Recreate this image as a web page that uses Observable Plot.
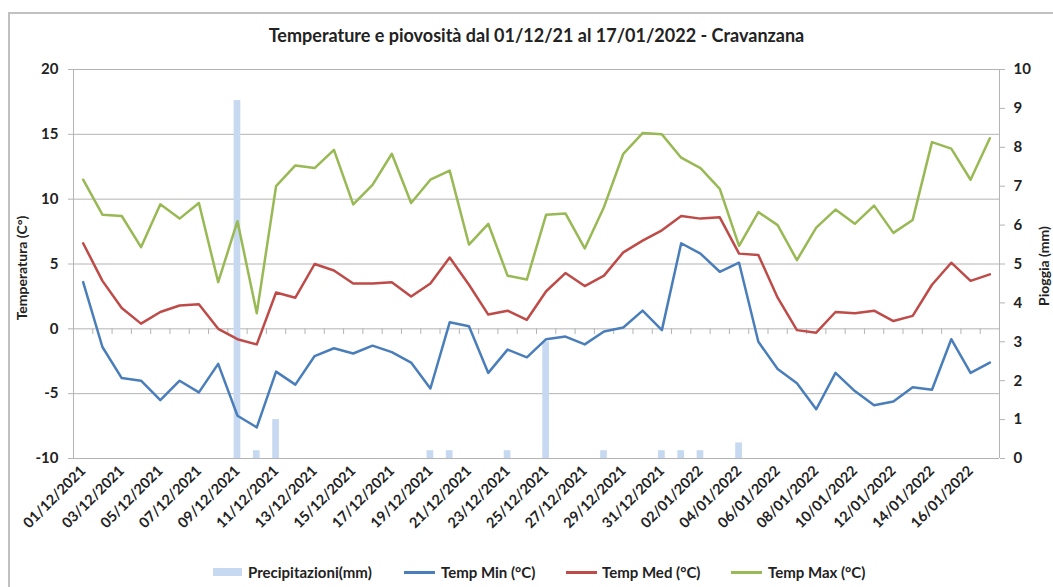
<!DOCTYPE html>
<html><head><meta charset="utf-8">
<script src="https://cdn.jsdelivr.net/npm/d3@7"></script>
<script src="https://cdn.jsdelivr.net/npm/@observablehq/plot@0.6"></script>
<style>
body{margin:0;background:#fff;}
#wrap{position:relative;width:1053px;height:587px;overflow:hidden;background:#fff;font-family:Lato,"Open Sans",sans-serif;color:#222;}
#frame{position:absolute;left:8px;top:12px;width:1200px;height:800px;border-left:2px solid #c0c0c0;border-top:2px solid #c0c0c0;}
#title{position:absolute;left:0;top:24px;width:1073px;text-align:center;font-size:18px;font-weight:bold;line-height:22px;white-space:nowrap;}
#chart{position:absolute;left:0;top:0;}
.alab{position:absolute;transform:translate(-50%,-50%) rotate(-90deg);white-space:nowrap;font-size:14px;font-weight:bold;line-height:16px;}
.lg{position:absolute;font-size:15px;font-weight:bold;line-height:18px;top:563px;white-space:nowrap;}
.sw{position:absolute;}
</style></head>
<body>
<div id="wrap">
  <div id="frame"></div>
  <div id="title">Temperature e piovosità dal 01/12/21 al 17/01/2022 - Cravanzana</div>
  <div id="chart"></div>
  <div class="alab" style="left:22px;top:268px;">Temperatura (C°)</div>
  <div class="alab" style="left:1044px;top:266px;">Pioggia (mm)</div>
  <div id="legend"></div>
</div>
<script>
const dates = [
  "01/12/2021","02/12/2021","03/12/2021","04/12/2021","05/12/2021","06/12/2021","07/12/2021","08/12/2021",
  "09/12/2021","10/12/2021","11/12/2021","12/12/2021","13/12/2021","14/12/2021","15/12/2021","16/12/2021",
  "17/12/2021","18/12/2021","19/12/2021","20/12/2021","21/12/2021","22/12/2021","23/12/2021","24/12/2021",
  "25/12/2021","26/12/2021","27/12/2021","28/12/2021","29/12/2021","30/12/2021","31/12/2021","01/01/2022",
  "02/01/2022","03/01/2022","04/01/2022","05/01/2022","06/01/2022","07/01/2022","08/01/2022","09/01/2022",
  "10/01/2022","11/01/2022","12/01/2022","13/01/2022","14/01/2022","15/01/2022","16/01/2022","17/01/2022"
];
const tempMin = [3.6,-1.4,-3.8,-4.0,-5.5,-4.0,-4.9,-2.7,-6.7,-7.6,-3.3,-4.3,-2.1,-1.5,-1.9,-1.3,
  -1.8,-2.6,-4.6,0.5,0.2,-3.4,-1.6,-2.2,-0.8,-0.6,-1.2,-0.2,0.1,1.4,-0.1,6.6,
  5.8,4.4,5.1,-1.0,-3.1,-4.2,-6.2,-3.4,-4.8,-5.9,-5.6,-4.5,-4.7,-0.8,-3.4,-2.6];
const tempMed = [6.6,3.7,1.6,0.4,1.3,1.8,1.9,0.0,-0.8,-1.2,2.8,2.4,5.0,4.5,3.5,3.5,
  3.6,2.5,3.5,5.5,3.4,1.1,1.4,0.7,2.9,4.3,3.3,4.1,5.9,6.8,7.6,8.7,
  8.5,8.6,5.8,5.7,2.4,-0.1,-0.3,1.3,1.2,1.4,0.6,1.0,3.4,5.1,3.7,4.2];
const tempMax = [11.5,8.8,8.7,6.3,9.6,8.5,9.7,3.6,8.3,1.2,11.0,12.6,12.4,13.8,9.6,11.1,
  13.5,9.7,11.5,12.2,6.5,8.1,4.1,3.8,8.8,8.9,6.2,9.4,13.5,15.1,15.0,13.2,
  12.4,10.8,6.4,9.0,8.0,5.3,7.8,9.2,8.1,9.5,7.4,8.4,14.4,13.9,11.5,14.7];
const rain = [0,0,0,0,0,0,0,0,9.2,0.2,1.0,0,0,0,0,0,
  0,0,0.2,0.2,0,0,0.2,0,3.0,0,0,0.2,0,0,0.2,0.2,
  0.2,0,0.4,0,0,0,0,0,0,0,0,0,0,0,0,0];
const tempTicks = [-10,-5,0,5,10,15,20];
const rainTicks = [0,1,2,3,4,5,6,7,8,9,10];

const colMin = "#4a7ebb", colMed = "#be4b48", colMax = "#98b954", colRain = "#c6d9f1", colGrid = "#b4b4b4";

const width = 1053, height = 560, mL = 73, mR = 54, mT = 69, mB = 102;
const bw = (width - mL - mR) / dates.length;
// rain (0..10 mm) shares the temperature scale (-10..20 °C)
const rainToT = mm => -10 + mm * 3;
const tToRain = t => (t + 10) / 3;

const data = dates.map((d, i) => ({date: d, tmin: tempMin[i], tmed: tempMed[i], tmax: tempMax[i], rain: rain[i]}));
const last = dates[dates.length - 1];

const chart = Plot.plot({
  width, height, marginLeft: mL, marginRight: mR, marginTop: mT, marginBottom: mB,
  style: {fontFamily: "Lato, 'Open Sans', sans-serif", color: "#222", background: "transparent", overflow: "visible"},
  x: {type: "band", domain: dates, padding: 0, round: false, label: null},
  y: {domain: [-10, 20], label: null},
  marks: [
    Plot.gridY(tempTicks, {stroke: colGrid, strokeOpacity: 1}),
    Plot.barY(data.filter(d => d.rain > 0), {x: "date", y1: -10, y2: d => rainToT(d.rain), fill: colRain, insetLeft: 6.3, insetRight: 6.3}),
    Plot.ruleX([dates[0]], {x: d => d, y1: -10, y2: 20, stroke: colGrid, dx: -bw / 2}),
    Plot.ruleX([last], {x: d => d, y1: -10, y2: 20, stroke: colGrid, dx: bw / 2}),
    Plot.ruleX(dates, {x: d => d, y1: 0, y2: -0.44, stroke: colGrid, dx: -bw / 2}),
    Plot.ruleX([last], {x: d => d, y1: 0, y2: -0.44, stroke: colGrid, dx: bw / 2}),
    Plot.axisY(tempTicks, {anchor: "left", tickSize: 5, tickPadding: 10, stroke: colGrid, fill: "#222", fontSize: 15, fontWeight: "bold", label: null,
      tickFormat: t => String(t)}),
    Plot.axisY(rainTicks.map(rainToT), {anchor: "right", tickSize: 5, tickPadding: 9, stroke: colGrid, fill: "#222", fontSize: 15, fontWeight: "bold", label: null,
      tickFormat: t => String(Math.round(tToRain(t)))}),
    Plot.axisX(dates.filter((d, i) => i % 2 === 0), {anchor: "bottom", tickSize: 0, tickPadding: 10, tickRotate: -45, fill: "#222", fontSize: 14.5, fontWeight: "bold", label: null}),
    Plot.lineY(data, {x: "date", y: "tmin", stroke: colMin, strokeWidth: 2.5}),
    Plot.lineY(data, {x: "date", y: "tmed", stroke: colMed, strokeWidth: 2.5}),
    Plot.lineY(data, {x: "date", y: "tmax", stroke: colMax, strokeWidth: 2.5})
  ]
});
document.getElementById("chart").appendChild(chart);

const legendItems = [
  {label: "Precipitazioni(mm)", color: colRain, kind: "box", x: 213, tx: 248},
  {label: "Temp Min (°C)", color: colMin, kind: "line", x: 404, tx: 441},
  {label: "Temp Med (°C)", color: colMed, kind: "line", x: 566, tx: 602},
  {label: "Temp Max (°C)", color: colMax, kind: "line", x: 731, tx: 768}
];
const lg = document.getElementById("legend");
for (const it of legendItems) {
  const sw = document.createElement("div");
  sw.className = "sw";
  sw.style.background = it.color;
  sw.style.left = it.x + "px";
  if (it.kind === "box") { sw.style.top = "568px"; sw.style.width = "29px"; sw.style.height = "8px"; }
  else { sw.style.top = "571px"; sw.style.width = "31px"; sw.style.height = "3px"; }
  lg.appendChild(sw);
  const t = document.createElement("div");
  t.className = "lg";
  t.style.left = it.tx + "px";
  t.textContent = it.label;
  lg.appendChild(t);
}
</script>
</body></html>
